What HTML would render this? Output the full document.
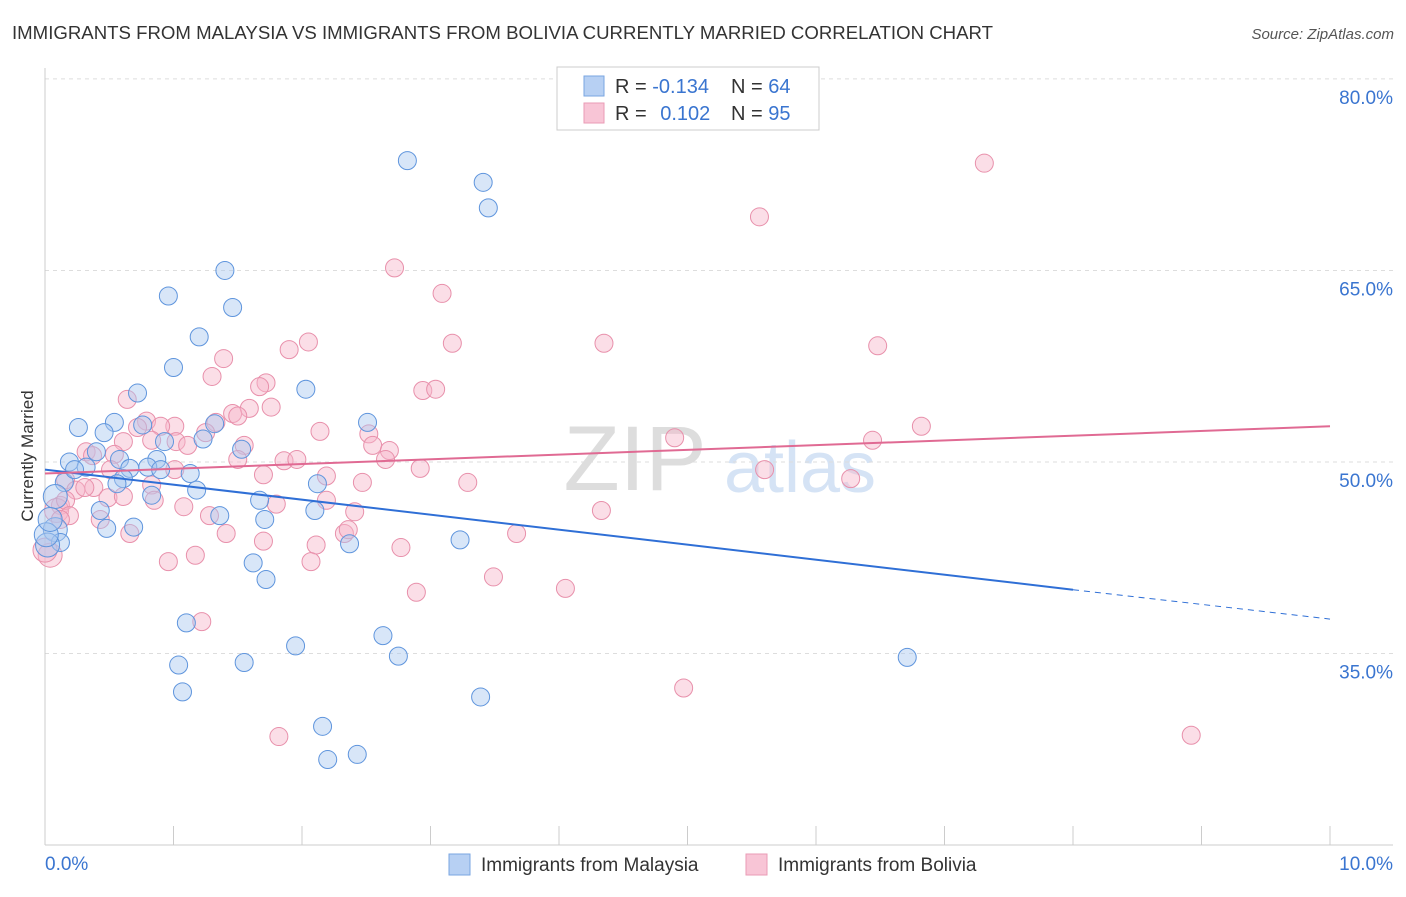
<!DOCTYPE html>
<html><head><meta charset="utf-8">
<style>
body{margin:0;background:#fff;font-family:"Liberation Sans",sans-serif;}
svg text{font-family:"Liberation Sans",sans-serif;}
</style></head>
<body>
<svg id="chart" width="1406" height="892" viewBox="0 0 1406 892" xmlns="http://www.w3.org/2000/svg">
<text x="12" y="39" font-size="18" fill="#333" textLength="981" lengthAdjust="spacingAndGlyphs">IMMIGRANTS FROM MALAYSIA VS IMMIGRANTS FROM BOLIVIA CURRENTLY MARRIED CORRELATION CHART</text>
<text x="1394" y="39" font-size="15" fill="#555" text-anchor="end" font-style="italic">Source: ZipAtlas.com</text>
<text x="33" y="456" font-size="17" fill="#333" text-anchor="middle" transform="rotate(-90 33 456)">Currently Married</text>
<g>
<text x="635" y="490" font-size="92" fill="#ddd" text-anchor="middle" font-family="Liberation Serif">ZIP</text>
<text x="800" y="492" font-size="72" fill="#d5e3f5" text-anchor="middle">atlas</text>
</g>
<g id="grid"></g>
<g id="axes"></g>
<g id="points"></g>
<g id="trends"></g>
<g>
<rect x="557" y="67" width="262" height="63" fill="#fff" stroke="#ccc"/>
<rect x="584" y="76" width="20" height="20" fill="#b7d0f3" stroke="#7aa6e2"/>
<rect x="584" y="103" width="20" height="20" fill="#f8c5d6" stroke="#ea9bb5"/>
<text x="615" y="93" font-size="20" fill="#333">R = <tspan fill="#3a75d0">-0.134</tspan></text>
<text x="731" y="93" font-size="20" fill="#333">N = <tspan fill="#3a75d0">64</tspan></text>
<text x="615" y="120" font-size="20" fill="#333">R = <tspan fill="#3a75d0" dx="8">0.102</tspan></text>
<text x="731" y="120" font-size="20" fill="#333">N = <tspan fill="#3a75d0">95</tspan></text>
</g>
<g>
<rect x="449" y="854" width="21" height="21" fill="#b7d0f3" stroke="#7aa6e2"/>
<text x="481" y="871" font-size="19" fill="#333">Immigrants from Malaysia</text>
<rect x="746" y="854" width="21" height="21" fill="#f8c5d6" stroke="#ea9bb5"/>
<text x="778" y="871" font-size="19" fill="#333">Immigrants from Bolivia</text>
</g>
</svg>
<script>
const yTicks=[35,50,65,80];
const yTickLabels=["35.0%","50.0%","65.0%","80.0%"];
const xTicks=[0,1,2,3,4,5,6,7,8,9,10];
const xEndLabels=["0.0%","10.0%"];
const malaysiaX=[2.82,3.41,3.45,1.40,0.96,1.46,1.20,1.00,2.03,0.72,0.54,0.26,0.46,0.76,0.93,1.23,1.32,2.51,1.53,0.40,0.19,0.32,0.58,0.66,0.87,0.80,0.90,1.13,0.61,0.56,0.15,1.18,0.83,1.67,2.12,0.08,0.43,1.36,1.71,2.10,0.48,0.69,0.08,0.12,0.02,2.37,3.23,1.62,1.72,1.10,2.63,1.95,2.75,1.04,1.55,6.71,1.07,3.39,2.16,2.20,2.43,0.01,0.04,0.23];
const malaysiaY=[73.6,71.9,69.9,65.0,63.0,62.1,59.8,57.4,55.7,55.4,53.1,52.7,52.3,52.9,51.6,51.8,53.0,53.1,51.0,50.8,50.0,49.6,50.2,49.5,50.2,49.6,49.4,49.1,48.7,48.3,48.4,47.8,47.4,47.0,48.3,47.3,46.2,45.8,45.5,46.2,44.8,44.9,44.7,43.7,43.5,43.6,43.9,42.1,40.8,37.4,36.4,35.6,34.8,34.1,34.3,34.7,32.0,31.6,29.3,26.7,27.1,44.3,45.5,49.4];
const boliviaX=[7.31,5.56,2.72,3.09,2.05,3.17,4.35,6.48,1.39,1.90,1.30,1.72,1.67,2.94,3.04,0.64,1.59,1.76,1.46,1.50,0.79,1.01,0.72,0.90,1.33,1.25,2.14,2.52,0.61,0.83,1.02,1.11,1.55,2.55,2.68,0.32,0.54,1.50,1.86,1.96,2.65,2.92,1.01,2.19,1.70,2.47,3.29,0.83,0.38,0.16,0.49,0.61,0.43,0.85,0.24,0.12,1.08,1.28,1.80,2.19,4.33,4.90,5.60,6.27,6.44,6.82,0.66,1.41,1.70,2.11,2.33,2.36,2.77,3.67,0.96,1.17,2.07,3.49,4.05,2.89,1.22,4.97,1.82,8.92,0.04,0.00,0.09,0.16,0.31,0.19,0.51,0.12,0.37,2.41];
const boliviaY=[73.4,69.2,65.2,63.2,59.4,59.3,59.3,59.1,58.1,58.8,56.7,56.2,55.9,55.6,55.7,54.9,54.2,54.3,53.8,53.6,53.2,52.8,52.7,52.8,53.1,52.3,52.4,52.2,51.6,51.7,51.6,51.3,51.3,51.3,50.9,50.8,50.6,50.2,50.1,50.2,50.2,49.5,49.4,48.9,49.0,48.4,48.4,48.2,48.0,48.6,47.2,47.3,45.5,47.0,47.8,46.6,46.5,45.8,46.7,47.0,46.2,51.9,49.4,48.7,51.7,52.8,44.4,44.4,43.8,43.5,44.4,44.7,43.3,44.4,42.2,42.7,42.2,41.0,40.1,39.8,37.5,32.3,28.5,28.6,42.7,43.1,46.2,47.0,48.0,45.8,49.4,45.5,50.5,46.1];
const malaysiaTrend=[49.4,40.0,37.7];
const boliviaTrend=[49.1,52.8];
const trendX=[0,8,10];

const NS="http://www.w3.org/2000/svg";
const xs=v=>45+v*128.5;
const ys=v=>462-(v-50)*12.77;
function mk(tag,attrs,parent){const e=document.createElementNS(NS,tag);for(const k in attrs)e.setAttribute(k,attrs[k]);parent.appendChild(e);return e;}
const grid=document.getElementById('grid'),axes=document.getElementById('axes'),pts=document.getElementById('points'),tr=document.getElementById('trends');
yTicks.forEach((t,i)=>{
 const l=mk('line',{x1:45,x2:1393,y1:ys(t),y2:ys(t),stroke:'#ddd','stroke-dasharray':'4,4'},grid);
 
 
 const tx=mk('text',{x:1393,y:ys(t)+25,'font-size':19,fill:'#3a75d0','text-anchor':'end'},axes);
 tx.textContent=yTickLabels[i];
 
 
});
const ax=mk('line',{x1:45,x2:1393,y1:845,y2:845,stroke:'#ccc'},axes);


const ay=mk('line',{x1:45,x2:45,y1:68,y2:845,stroke:'#ccc'},axes);


xTicks.forEach(t=>{
 const l=mk('line',{x1:xs(t),x2:xs(t),y1:826,y2:845,stroke:'#ccc'},axes);
 
 
});
[[0,'start',45],[1,'end',1393]].forEach(([i,a,x])=>{
 const tx=mk('text',{x:x,y:870,'font-size':19,fill:'#3a75d0','text-anchor':a},axes);
 tx.textContent=xEndLabels[i];
 
 
});
function draw(X,Y,fill,stroke,name){
 X.forEach((x,i)=>{
  const r=x<0.1?12:9;
  const c=mk('circle',{cx:xs(x),cy:ys(Y[i]),r:r,fill:fill,'fill-opacity':0.45,stroke:stroke,'stroke-width':1},pts);
  
  
 });
}
draw(boliviaX,boliviaY,'#f6b5ca','#e890ab','point-bolivia');
draw(malaysiaX,malaysiaY,'#a8c8f0','#5f95dd','point-malaysia');
const b1=mk('line',{x1:xs(trendX[0]),y1:ys(malaysiaTrend[0]),x2:xs(trendX[1]),y2:ys(malaysiaTrend[1]),stroke:'#2f6fd6','stroke-width':2},tr);


const b2=mk('line',{x1:xs(trendX[1]),y1:ys(malaysiaTrend[1]),x2:xs(trendX[2]),y2:ys(malaysiaTrend[2]),stroke:'#2f6fd6','stroke-width':1,'stroke-dasharray':'6,5'},tr);


const p1=mk('line',{x1:xs(trendX[0]),y1:ys(boliviaTrend[0]),x2:xs(trendX[2]),y2:ys(boliviaTrend[1]),stroke:'#e06a93','stroke-width':2},tr);


</script>
</body></html>
